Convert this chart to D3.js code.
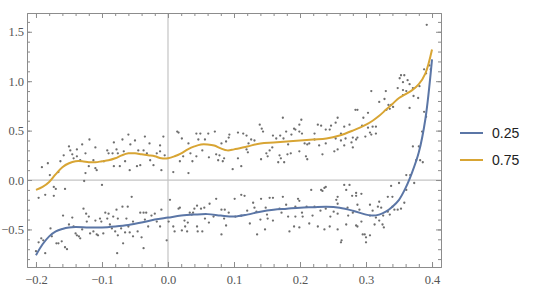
<!DOCTYPE html>
<html>
<head>
<meta charset="utf-8">
<script src="https://cdn.jsdelivr.net/npm/d3@7"></script>
<style>
  html, body { margin: 0; padding: 0; background: #fff; }
  svg { display: block; }
</style>
</head>
<body>
<div id="chart"></div>
<script>
// quantile regression curves over a noisy two-cluster scatter

const xTicks = [-0.2, -0.1, 0.0, 0.1, 0.2, 0.3, 0.4];
const yTicks = [-0.5, 0.0, 0.5, 1.0, 1.5];
const seriesNames = ['0.25', '0.75'];

// quantile 0.25 curve
const q25X = [-0.2, -0.19, -0.18, -0.17, -0.16, -0.15, -0.14, -0.12, -0.1, -0.08, -0.06, -0.04, -0.02, 0, 0.02, 0.04, 0.06, 0.08, 0.1, 0.12, 0.14, 0.16, 0.18, 0.2, 0.22, 0.24, 0.26, 0.28, 0.3, 0.31, 0.32, 0.33, 0.34, 0.35, 0.36, 0.37, 0.38, 0.39, 0.4];
const q25Y = [-0.76, -0.65, -0.57, -0.52, -0.495, -0.48, -0.475, -0.48, -0.48, -0.47, -0.455, -0.43, -0.40, -0.38, -0.36, -0.35, -0.345, -0.36, -0.37, -0.35, -0.32, -0.30, -0.29, -0.28, -0.275, -0.27, -0.28, -0.31, -0.35, -0.36, -0.35, -0.32, -0.27, -0.2, -0.08, 0.08, 0.28, 0.62, 1.22];

// quantile 0.75 curve
const q75X = [-0.2, -0.19, -0.18, -0.17, -0.16, -0.15, -0.14, -0.13, -0.12, -0.11, -0.1, -0.09, -0.08, -0.07, -0.06, -0.05, -0.04, -0.03, -0.02, -0.01, 0, 0.01, 0.02, 0.03, 0.04, 0.05, 0.06, 0.07, 0.08, 0.09, 0.1, 0.12, 0.14, 0.16, 0.18, 0.2, 0.22, 0.24, 0.26, 0.28, 0.3, 0.31, 0.32, 0.33, 0.34, 0.35, 0.36, 0.37, 0.38, 0.39, 0.4];
const q75Y = [-0.10, -0.07, -0.02, 0.06, 0.13, 0.17, 0.19, 0.19, 0.18, 0.18, 0.19, 0.20, 0.22, 0.25, 0.27, 0.27, 0.26, 0.25, 0.24, 0.22, 0.22, 0.24, 0.27, 0.31, 0.34, 0.36, 0.36, 0.35, 0.32, 0.30, 0.31, 0.34, 0.37, 0.38, 0.39, 0.40, 0.41, 0.42, 0.45, 0.50, 0.56, 0.60, 0.65, 0.71, 0.77, 0.83, 0.87, 0.91, 0.97, 1.08, 1.32];

// scatter points, [x, y]
const points = [
  // upper cluster, left
  [-0.119, 0.41], [-0.191, 0.13], [-0.182, 0.17], [-0.196, -0.18], [-0.186, -0.15], [-0.173, -0.16],
  [-0.173, -0.07], [-0.170, -0.09], [-0.179, 0.05], [-0.166, 0.08], [-0.163, 0.19], [-0.158, 0.25],
  [-0.156, -0.09], [-0.148, 0.30], [-0.145, 0.26], [-0.143, 0.22], [-0.138, 0.24], [-0.133, 0.20],
  [-0.125, 0.07], [-0.127, -0.01], [-0.120, 0.14], [-0.113, 0.20], [-0.110, 0.12], [-0.108, 0.10],
  [-0.100, -0.05], [-0.092, 0.30], [-0.090, 0.27], [-0.097, 0.19], [-0.125, 0.27], [-0.138, 0.31],
  [-0.150, 0.34], [-0.130, 0.36], [-0.110, 0.33], [-0.082, 0.38],
  // lower cluster, left
  [-0.200, -0.72], [-0.196, -0.63], [-0.192, -0.59], [-0.186, -0.74], [-0.189, -0.61], [-0.178, -0.49],
  [-0.176, -0.57], [-0.169, -0.64], [-0.166, -0.64], [-0.161, -0.62], [-0.159, -0.36], [-0.156, -0.68],
  [-0.153, -0.70], [-0.145, -0.38], [-0.143, -0.47], [-0.140, -0.54], [-0.138, -0.56], [-0.135, -0.57],
  [-0.133, -0.59], [-0.128, -0.29], [-0.124, -0.34], [-0.120, -0.37], [-0.123, -0.42], [-0.118, -0.54],
  [-0.113, -0.52], [-0.110, -0.41], [-0.108, -0.55], [-0.103, -0.39], [-0.101, -0.42], [-0.095, -0.33],
  [-0.092, -0.39], [-0.090, -0.34], [-0.106, -0.56], [-0.098, -0.54], [-0.150, -0.45], [-0.130, -0.50],
  [-0.088, -0.45],
  // upper cluster, around zero
  [0.016, 0.48], [-0.007, 0.44], [-0.035, 0.44], [-0.060, 0.46], [-0.069, 0.41], [-0.057, 0.36],
  [-0.078, 0.31], [-0.084, 0.27], [-0.076, 0.27], [-0.067, 0.29], [-0.065, 0.19], [-0.045, 0.30],
  [-0.042, 0.15], [-0.047, 0.14], [-0.037, 0.30], [-0.032, 0.27], [-0.027, 0.20], [-0.022, 0.15],
  [-0.017, 0.27], [-0.012, 0.29], [-0.010, 0.10], [-0.005, 0.25], [-0.058, 0.10], [-0.073, 0.14],
  [-0.082, 0.14], [0.008, 0.08], [0.018, 0.19], [0.023, 0.24], [0.031, 0.37], [0.034, 0.27],
  [0.037, 0.19], [0.031, 0.07], [0.014, 0.49], [-0.050, 0.40], [-0.028, 0.37], [-0.012, 0.35],
  [0.021, 0.42],
  // lower cluster, around zero
  [0.003, -0.20], [-0.055, -0.17], [-0.078, -0.30], [-0.069, -0.27], [-0.061, -0.27], [-0.042, -0.33],
  [-0.037, -0.33], [-0.033, -0.33], [-0.025, -0.36], [-0.020, -0.34], [-0.010, -0.30], [-0.083, -0.37],
  [-0.076, -0.39], [-0.063, -0.39], [-0.053, -0.42], [-0.035, -0.40], [-0.017, -0.42], [-0.012, -0.47],
  [-0.085, -0.49], [-0.080, -0.52], [-0.071, -0.49], [-0.065, -0.53], [-0.058, -0.53], [-0.053, -0.57],
  [-0.046, -0.52], [-0.040, -0.58], [-0.076, -0.56], [-0.068, -0.64], [-0.077, -0.74], [-0.037, -0.69],
  [-0.002, -0.61], [0.008, -0.47], [0.010, -0.52], [0.016, -0.29], [0.018, -0.28], [0.021, -0.51],
  [0.026, -0.47], [0.029, -0.52], [0.033, -0.33], [0.036, -0.35], [0.038, -0.33], [0.025, -0.41],
  [-0.060, -0.47], [-0.030, -0.47], [0.001, -0.42], [0.030, -0.43],
  // upper cluster, middle
  [0.043, 0.47], [0.049, 0.47], [0.061, 0.47], [0.071, 0.49], [0.046, 0.41], [0.056, 0.41],
  [0.081, 0.37], [0.088, 0.39], [0.093, 0.46], [0.106, 0.48], [0.114, 0.47], [0.119, 0.45],
  [0.126, 0.41], [0.131, 0.40], [0.139, 0.56], [0.142, 0.52], [0.144, 0.49], [0.159, 0.45],
  [0.164, 0.42], [0.062, 0.23], [0.073, 0.26], [0.078, 0.25], [0.083, 0.19], [0.076, 0.20],
  [0.085, 0.22], [0.098, 0.11], [0.111, 0.14], [0.106, 0.22], [0.119, 0.31], [0.121, 0.28],
  [0.141, 0.21], [0.149, 0.27], [0.154, 0.30], [0.151, 0.24], [0.043, 0.24], [0.052, 0.30],
  [0.092, 0.43], [0.122, 0.37], [0.158, 0.33],
  // lower cluster, middle
  [0.044, -0.26], [0.050, -0.29], [0.055, -0.28], [0.063, -0.24], [0.073, -0.19], [0.081, -0.30],
  [0.086, -0.30], [0.101, -0.19], [0.111, -0.15], [0.116, -0.16], [0.129, -0.23], [0.131, -0.28],
  [0.141, -0.19], [0.154, -0.18], [0.159, -0.18], [0.040, -0.29], [0.056, -0.39], [0.069, -0.37],
  [0.085, -0.39], [0.102, -0.37], [0.111, -0.36], [0.134, -0.32], [0.148, -0.28], [0.150, -0.35],
  [0.159, -0.41], [0.151, -0.39], [0.044, -0.47], [0.088, -0.46], [0.045, -0.52], [0.052, -0.52],
  [0.081, -0.55], [0.124, -0.44], [0.135, -0.55], [0.147, -0.50], [0.062, -0.43], [0.092, -0.33],
  [0.120, -0.31], [0.140, -0.40],
  // upper cluster, right-middle
  [0.174, 0.63], [0.202, 0.61], [0.199, 0.56], [0.191, 0.52], [0.193, 0.51], [0.179, 0.49],
  [0.199, 0.49], [0.203, 0.47], [0.227, 0.56], [0.232, 0.55], [0.239, 0.51], [0.245, 0.51],
  [0.247, 0.55], [0.257, 0.63], [0.254, 0.58], [0.267, 0.54], [0.275, 0.56], [0.284, 0.71],
  [0.170, 0.45], [0.175, 0.42], [0.187, 0.46], [0.214, 0.37], [0.222, 0.41], [0.207, 0.37],
  [0.211, 0.36], [0.229, 0.35], [0.239, 0.37], [0.254, 0.42], [0.262, 0.40], [0.269, 0.42],
  [0.280, 0.43], [0.285, 0.41], [0.169, 0.25], [0.171, 0.22], [0.176, 0.18], [0.167, 0.18],
  [0.181, 0.26], [0.186, 0.27], [0.199, 0.29], [0.209, 0.24], [0.211, 0.21], [0.234, 0.26],
  [0.252, 0.29], [0.257, 0.31], [0.267, 0.35], [0.278, 0.38], [0.182, 0.36], [0.222, 0.47],
  [0.262, 0.47], [0.280, 0.33],
  // lower cluster, right-middle
  [0.174, -0.17], [0.197, -0.19], [0.199, -0.21], [0.217, -0.10], [0.232, -0.10], [0.237, -0.08],
  [0.239, -0.07], [0.234, -0.11], [0.255, -0.20], [0.257, -0.17], [0.267, -0.05], [0.275, -0.05],
  [0.270, -0.10], [0.279, -0.16], [0.285, -0.16], [0.179, -0.25], [0.169, -0.29], [0.193, -0.27],
  [0.210, -0.27], [0.222, -0.27], [0.239, -0.29], [0.257, -0.24], [0.219, -0.36], [0.204, -0.37],
  [0.193, -0.37], [0.182, -0.37], [0.246, -0.37], [0.257, -0.34], [0.273, -0.36], [0.280, -0.33],
  [0.184, -0.52], [0.191, -0.47], [0.199, -0.48], [0.214, -0.44], [0.227, -0.47], [0.237, -0.50],
  [0.245, -0.47], [0.257, -0.50], [0.270, -0.45], [0.262, -0.63], [0.287, -0.47], [0.172, -0.33],
  [0.203, -0.33], [0.231, -0.31], [0.251, -0.32], [0.272, -0.28], [0.290, -0.30],
  // upper cluster, right
  [0.353, 1.06], [0.358, 1.06], [0.351, 1.03], [0.356, 0.99], [0.363, 1.01], [0.366, 0.97],
  [0.348, 0.93], [0.356, 0.91], [0.361, 0.90], [0.371, 0.93], [0.381, 0.95], [0.388, 1.12],
  [0.391, 1.08], [0.396, 1.16], [0.398, 1.12], [0.308, 0.90], [0.330, 0.90], [0.328, 0.82],
  [0.320, 0.79], [0.334, 0.76], [0.338, 0.76], [0.341, 0.74], [0.336, 0.72], [0.331, 0.71],
  [0.366, 0.73], [0.356, 0.86], [0.372, 0.85], [0.379, 0.83], [0.303, 0.68], [0.296, 0.63],
  [0.287, 0.71], [0.294, 0.55], [0.303, 0.53], [0.310, 0.54], [0.315, 0.54], [0.306, 0.48],
  [0.299, 0.44], [0.308, 0.46], [0.315, 0.47], [0.287, 0.43], [0.392, 1.57],
  // lower cluster, right
  [0.371, 0.34], [0.380, 0.34], [0.376, 0.20], [0.386, 0.18], [0.388, 0.69], [0.391, 0.64],
  [0.385, 0.49], [0.361, 0.05], [0.373, -0.03], [0.350, -0.03], [0.338, -0.06], [0.361, -0.10],
  [0.358, -0.23], [0.340, -0.17], [0.333, -0.17], [0.320, -0.22], [0.318, -0.27], [0.323, -0.28],
  [0.306, -0.25], [0.287, -0.25], [0.285, -0.13], [0.293, -0.14], [0.343, -0.30], [0.348, -0.30],
  [0.353, -0.29], [0.333, -0.32], [0.336, -0.35], [0.326, -0.36], [0.315, -0.38], [0.306, -0.36],
  [0.293, -0.42], [0.320, -0.41], [0.325, -0.45], [0.313, -0.45], [0.327, -0.48], [0.285, -0.46],
  [0.295, -0.55], [0.298, -0.55], [0.306, -0.56], [0.300, -0.63], [0.300, -0.58], [0.263, -0.61],
  [0.367, 0.05], [0.382, 0.20], [0.310, -0.31], [0.340, -0.27]
];

const colors = ['#5b76a6', '#d8a534'];

const W = 540, H = 288;
const frame = { left: 27, right: 441, top: 13, bottom: 267 };

const svg = d3.select('#chart').append('svg')
  .attr('width', W)
  .attr('height', H);

const x = d3.scaleLinear().domain([-0.2136, 0.4136]).range([frame.left, frame.right]);
const y = d3.scaleLinear().domain([-0.88, 1.69]).range([frame.bottom, frame.top]);

// axes through the origin
svg.append('line')
  .attr('x1', x(0)).attr('x2', x(0))
  .attr('y1', frame.top).attr('y2', frame.bottom)
  .attr('stroke', '#c4c4c4').attr('stroke-width', 1.2);
svg.append('line')
  .attr('x1', frame.left).attr('x2', frame.right)
  .attr('y1', y(0)).attr('y2', y(0))
  .attr('stroke', '#c4c4c4').attr('stroke-width', 1.2);

// scatter
svg.append('g')
  .selectAll('circle')
  .data(points)
  .join('circle')
  .attr('cx', d => x(d[0]))
  .attr('cy', d => y(d[1]))
  .attr('r', 1.15)
  .attr('fill', '#6e6e6e');

// curves
const line = d3.line()
  .x(d => x(d[0]))
  .y(d => y(d[1]))
  .curve(d3.curveCatmullRom.alpha(0.5));

const curves = [d3.zip(q25X, q25Y), d3.zip(q75X, q75Y)];
curves.forEach((c, i) => {
  svg.append('path')
    .datum(c)
    .attr('d', line)
    .attr('fill', 'none')
    .attr('stroke', colors[i])
    .attr('stroke-width', 2)
    .attr('stroke-linejoin', 'round');
});

// frame with inward ticks on all sides
const tickCol = '#8c8c8c';
const fontSerif = '"Liberation Serif", "DejaVu Serif", serif';
const fmt = d => d3.format('.1f')(d).replace('-', '\u2212');

const xMinor = d3.range(-0.2, 0.4001, 0.02);
const yMinor = d3.range(-0.8, 1.6001, 0.1);

const axBottom = d3.axisBottom(x).tickValues(xTicks).tickSizeInner(-5).tickSizeOuter(0).tickPadding(8).tickFormat(fmt);
const axTop = d3.axisTop(x).tickValues(xTicks).tickSizeInner(-5).tickSizeOuter(0).tickFormat('');
const axLeft = d3.axisLeft(y).tickValues(yTicks).tickSizeInner(-5).tickSizeOuter(0).tickPadding(3).tickFormat(fmt);
const axRight = d3.axisRight(y).tickValues(yTicks).tickSizeInner(-5).tickSizeOuter(0).tickFormat('');

function minor(axisFn, scale, vals) {
  return axisFn(scale).tickValues(vals).tickSizeInner(-3).tickSizeOuter(0).tickFormat('');
}

function style(g) {
  g.selectAll('.domain').attr('stroke', tickCol).attr('stroke-width', 1);
  g.selectAll('line').attr('stroke', tickCol);
  g.selectAll('text')
    .attr('fill', '#555')
    .attr('font-family', fontSerif)
    .attr('font-size', 12.5);
}

svg.append('g').attr('transform', `translate(0,${frame.bottom})`).call(minor(d3.axisBottom, x, xMinor)).call(style);
svg.append('g').attr('transform', `translate(0,${frame.top})`).call(minor(d3.axisTop, x, xMinor)).call(style);
svg.append('g').attr('transform', `translate(${frame.left},0)`).call(minor(d3.axisLeft, y, yMinor)).call(style);
svg.append('g').attr('transform', `translate(${frame.right},0)`).call(minor(d3.axisRight, y, yMinor)).call(style);

svg.append('g').attr('transform', `translate(0,${frame.bottom})`).call(axBottom).call(style);
svg.append('g').attr('transform', `translate(0,${frame.top})`).call(axTop).call(style);
svg.append('g').attr('transform', `translate(${frame.left},0)`).call(axLeft).call(style);
svg.append('g').attr('transform', `translate(${frame.right},0)`).call(axRight).call(style);

// legend
const legend = svg.append('g').attr('transform', 'translate(460,133)');
seriesNames.forEach((name, i) => {
  const g = legend.append('g').attr('transform', `translate(0,${i * 27})`);
  g.append('line')
    .attr('x1', 0).attr('x2', 23)
    .attr('stroke', colors[i]).attr('stroke-width', 2);
  g.append('text')
    .attr('x', 32).attr('y', 0)
    .attr('dy', '0.35em')
    .attr('font-family', '"Liberation Sans", Arial, sans-serif')
    .attr('font-size', 14)
    .attr('fill', '#222')
    .text(name);
});
</script>
</body>
</html>
